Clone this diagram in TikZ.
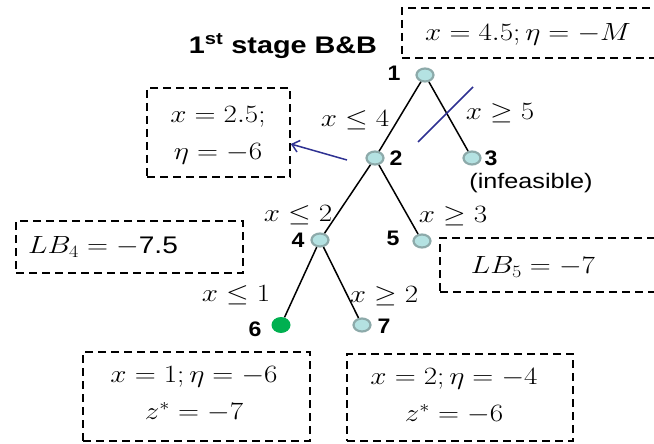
\documentclass[tikz,border=0pt]{standalone}
\usepackage{fontspec}
\setsansfont{Liberation Sans}
\usetikzlibrary{arrows.meta,shapes.geometric}
\definecolor{nodefill}{HTML}{B4E2E2}
\definecolor{nodeedge}{HTML}{8DAAAA}
\definecolor{leafgreen}{HTML}{00B050}
\definecolor{crossblue}{HTML}{2E3192}
\newcommand{\wide}[1]{\scalebox{1.2}[1]{#1}}
\newcommand{\mwide}[1]{\scalebox{1.17}[1]{#1}}
\newcommand{\nwide}[1]{\scalebox{1.1}[1]{#1}}
\tikzset{
  bbnode/.style={ellipse, minimum width=17pt, minimum height=13pt, inner sep=0pt, fill=nodefill, draw=nodeedge, line width=2.2pt},
  goodnode/.style={ellipse, minimum width=19pt, minimum height=16pt, inner sep=0pt, fill=leafgreen},
  numlab/.style={font=\sffamily\bfseries\fontsize{21}{24}\selectfont, inner sep=0pt},
  mlab/.style={font=\fontsize{26}{30}\selectfont, inner sep=0pt},
  dbox/.style={draw=black, dash pattern=on 8pt off 5pt, line width=1.6pt, inner sep=0pt},
  boxtext/.style={font=\fontsize{26}{37}\selectfont, align=center, inner sep=0pt},
  branch/.style={line width=1.5pt, black},
  bluemark/.style={line width=1.5pt, crossblue}
}
\begin{document}
\begin{tikzpicture}[x=1pt,y=-1pt]
\useasboundingbox (0,0) rectangle (654,444);
\clip (0,0) rectangle (654,444);
% title
\node[font=\sffamily\bfseries\fontsize{24}{28}\selectfont, inner sep=0pt] (title) at (283,46) {\wide{1\textsuperscript{st} stage B\&B}};
% tree nodes
\node[bbnode] (n1) at (425,75) {};
\node[bbnode] (n2) at (375,158) {};
\node[bbnode] (n3) at (472,158) {};
\node[bbnode] (n4) at (320,240) {};
\node[bbnode] (n5) at (422,241) {};
\node[goodnode] (n6) at (281,325) {};
\node[bbnode] (n7) at (362,325) {};
% branches
\draw[branch] (n1) -- (n2);
\draw[branch] (n1) -- (n3);
\draw[branch] (n2) -- (n4);
\draw[branch] (n2) -- (n5);
\draw[branch] (n4) -- (n6);
\draw[branch] (n4) -- (n7);
% node numbers
\node[numlab] (l1) at (394,73) {\nwide{1}};
\node[numlab] (l2) at (396,158) {\nwide{2}};
\node[numlab] (l3) at (491,158) {\nwide{3}};
\node[numlab] (l4) at (298,240) {\nwide{4}};
\node[numlab] (l5) at (393,238) {\nwide{5}};
\node[numlab] (l6) at (255,329) {\nwide{6}};
\node[numlab] (l7) at (384,326) {\nwide{7}};
\node[font=\sffamily\fontsize{21}{24}\selectfont, inner sep=0pt] (inf) at (531,183) {\wide{(infeasible)}};
% branch labels
\node[mlab] (b12) at (355,120) {\mwide{$x \leq 4$}};
\node[mlab] (b13) at (500,113) {\mwide{$x \geq 5$}};
\node[mlab] (b24) at (298,215) {\mwide{$x \leq 2$}};
\node[mlab] (b25) at (453,216) {\mwide{$x \geq 3$}};
\node[mlab] (b46) at (236,295) {\mwide{$x \leq 1$}};
\node[mlab] (b47) at (384,296) {\mwide{$x \geq 2$}};
% blue marks
\coordinate (c1a) at (418,142);
\coordinate (c1b) at (473,87);
\draw[bluemark] (c1a) -- (c1b);
\coordinate (arrtail) at (347,160);
% boxes
\node[dbox, minimum width=268pt, minimum height=50pt] (box1) at (536,33) {};
\node[boxtext] (t1) at (528,34) {\mwide{$x = 4.5; \eta = -M$}};
\node[dbox, minimum width=143pt, minimum height=89pt] (box2) at (218.5,132.5) {};
\node[boxtext] (t2) at (218,135) {\mwide{$x = 2.5;$}\\\mwide{$\eta = -6$}};
\draw[bluemark, -{Straight Barb[length=7pt,width=12pt]}] (arrtail) -- (box2.east |- 0,144);
\node[dbox, minimum width=227pt, minimum height=52pt] (box4) at (129.5,247) {};
\node[boxtext, anchor=west] (t4) at (28,247) {\mwide{$LB_4 = -\mbox{\sffamily\fontsize{24}{28}\selectfont 7.5}$}};
\node[dbox, minimum width=230pt, minimum height=54pt] (box5) at (555,265) {};
\node[boxtext] (t5) at (533,267) {\mwide{$LB_5 = -7$}};
\node[dbox, minimum width=227pt, minimum height=89pt] (box6) at (196.5,396.5) {};
\node[boxtext] (t6) at (194,394) {\mwide{$x = 1; \eta = -6$}\\\mwide{$z^{*} = -7$}};
\node[dbox, minimum width=226pt, minimum height=87pt] (box7) at (460,397.5) {};
\node[boxtext] (t7) at (454,396) {\mwide{$x = 2; \eta = -4$}\\\mwide{$z^{*} = -6$}};
\end{tikzpicture}
\end{document}
